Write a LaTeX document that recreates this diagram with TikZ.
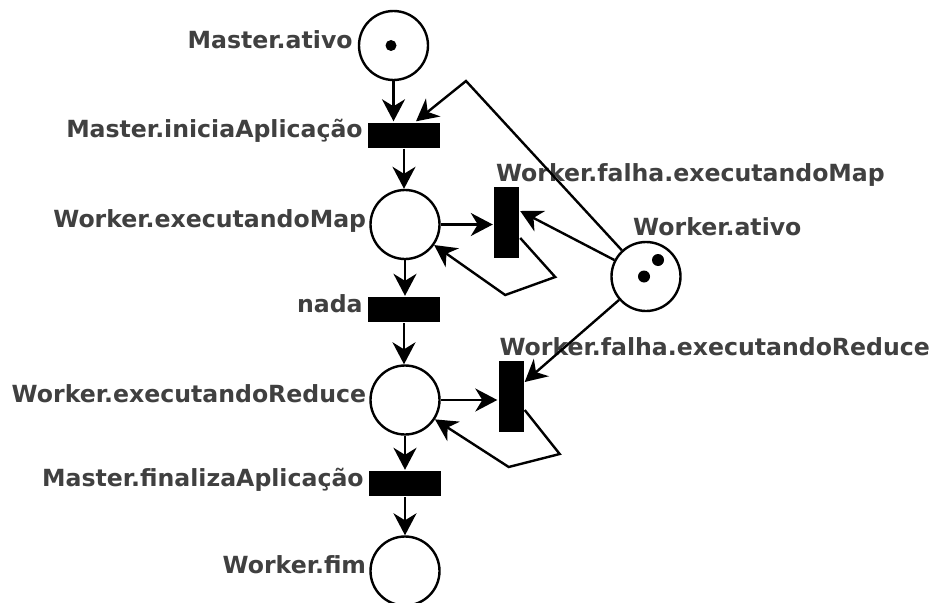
\documentclass[tikz,border=0pt]{standalone}
\usepackage{fontspec}
\setmainfont{DejaVu Sans}
\usetikzlibrary{arrows.meta,positioning}
\begin{document}
\begin{tikzpicture}[x=1pt,y=-1pt,line width=2.4pt,
  place/.style={circle,draw,minimum size=69pt,inner sep=0pt},
  trans/.style={fill,inner sep=0pt,minimum width=72pt,minimum height=25pt},
  vtrans/.style={fill,inner sep=0pt,minimum width=25pt,minimum height=71pt},
  lbl/.style={font=\fontsize{23.6}{28}\selectfont\bfseries,text=black!75,inner sep=0pt,
    text height=0.76em,text depth=0.24em},
  arcto/.style={-{Stealth[length=22pt,width=23pt,inset=7pt]}}]
  \useasboundingbox (0,0) rectangle (931,602);
  % places and transitions
  \node[place] (mativo) at (393.5,45.5) {};
  \node[trans] (inicia) at (404,135) {};
  \node[place] (exmap) at (405,224.5) {};
  \node[vtrans] (fmap) at (506.5,222.5) {};
  \node[place] (wativo) at (646,276.5) {};
  \node[trans] (nada) at (404,309.5) {};
  \node[place] (exred) at (405,400) {};
  \node[vtrans] (fred) at (511,396.5) {};
  \node[trans] (fin) at (405,483.5) {};
  \node[place] (wfim) at (405,571) {};
  % tokens
  \fill ([xshift=-2.5pt]mativo.center) circle (5.5);
  \fill ([xshift=12pt,yshift=16.5pt]wativo.center) circle (6);
  \fill ([xshift=-2pt]wativo.center) circle (6);
  % labels
  \node[lbl,left=4pt of mativo] (lmativo) {Master.ativo};
  \node[lbl,left=3pt of inicia] (linicia) {Master.iniciaAplicação};
  \node[lbl,left=2pt of exmap] (lexmap) {Worker.executandoMap};
  \node[lbl,left=3pt of nada] (lnada) {nada};
  \node[lbl,left=2pt of exred] (lexred) {Worker.executandoReduce};
  \node[lbl,left=3pt of fin] (lfin) {Master.finalizaAplicação};
  \node[lbl,left=2pt of wfim] (lwfim) {Worker.fim};
  \node[lbl,anchor=base west] (lfmap) at ([xshift=2pt,yshift=4pt]fmap.north west) {Worker.falha.executandoMap};
  \node[lbl,anchor=base west] (lfred) at ([xshift=1pt,yshift=4pt]fred.north west) {Worker.falha.executandoReduce};
  \node[lbl,anchor=base west] (lwativo) at ([xshift=-14pt,yshift=5.5pt]wativo.north) {Worker.ativo};
  % arcs
  \coordinate (bend) at (466,81);
  \draw[arcto] (mativo.south) -- (mativo.south |- inicia.north);
  \draw[arcto] (wativo) -- (bend) -- ([xshift=12pt]inicia.north);
  \draw[arcto] (inicia) -- (inicia |- exmap.north);
  \draw[arcto] (exmap) -- (exmap -| fmap.west);
  \draw[arcto] (wativo) -- ([yshift=11.5pt]fmap.east);
  \draw[arcto] ([yshift=-15.5pt]fmap.east) -- ++(35,39) -- ++(-50,18) -- (exmap);
  \draw[arcto] (exmap) -- (exmap |- nada.north);
  \draw[arcto] (nada) -- (nada |- exred.north);
  \draw[arcto] (exred) -- (exred -| fred.west);
  \draw[arcto] (wativo) -- ([yshift=14.5pt]fred.east);
  \draw[arcto] ([yshift=-13.5pt]fred.east) -- ++(35,44) -- ++(-51,13) -- (exred);
  \draw[arcto] (exred) -- (fin);
  \draw[arcto] (fin) -- (wfim);
\end{tikzpicture}
\end{document}
